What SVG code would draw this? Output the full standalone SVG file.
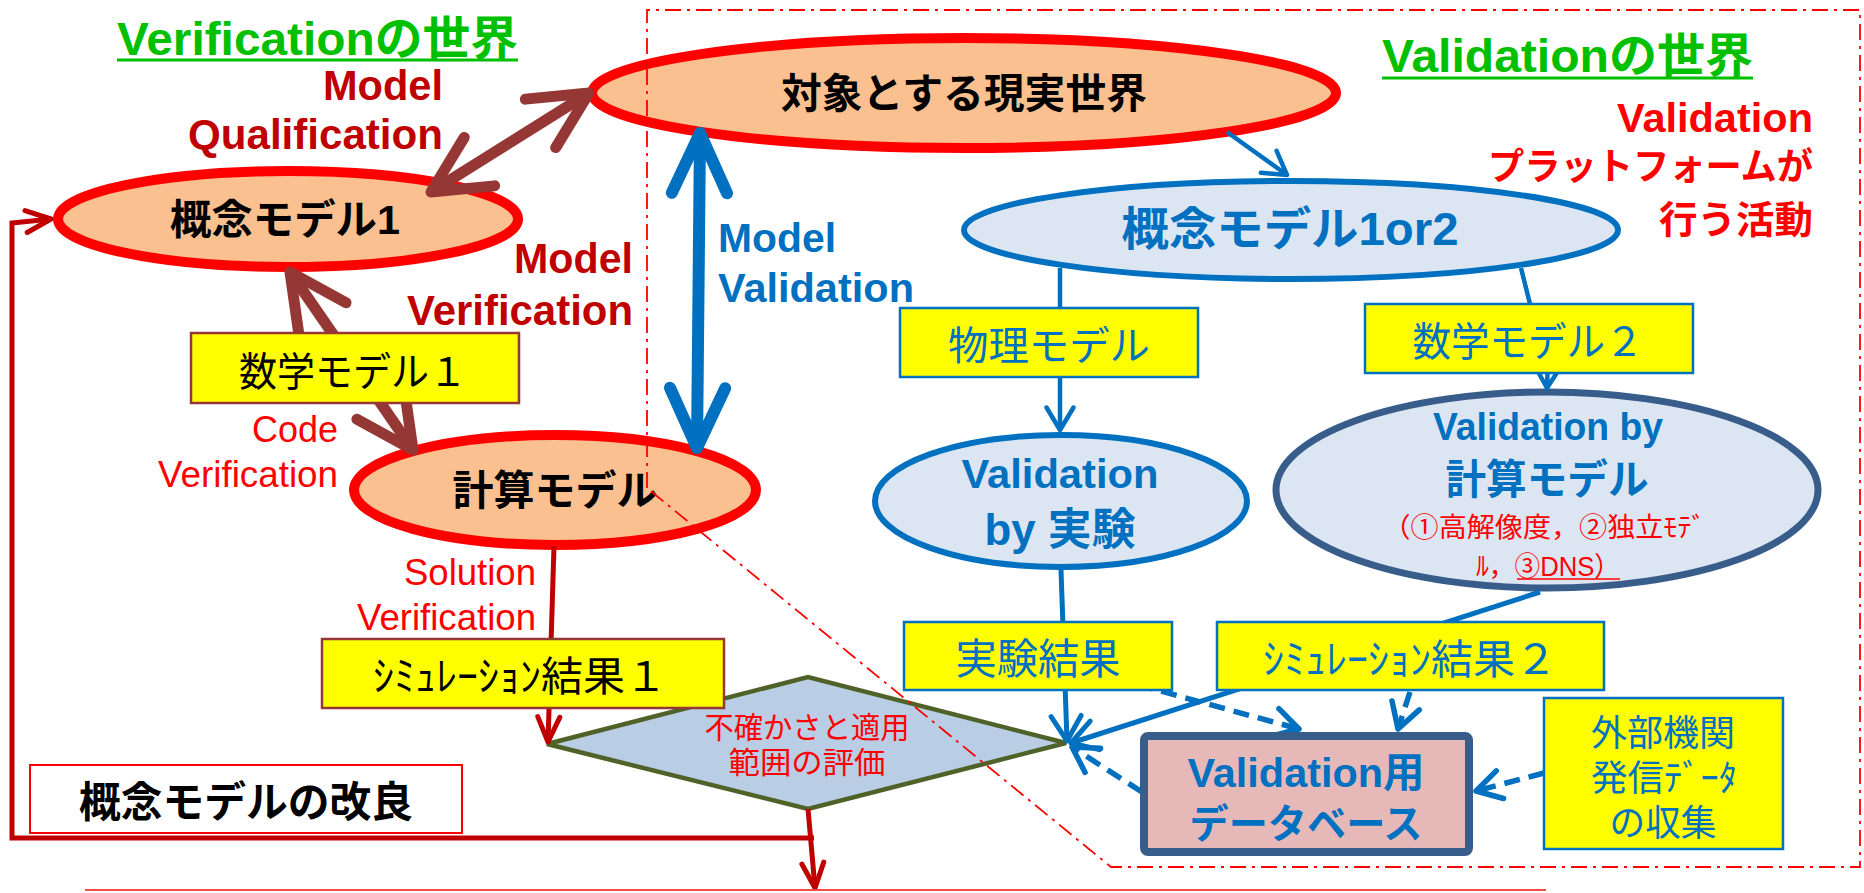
<svg xmlns="http://www.w3.org/2000/svg" width="1864" height="893" viewBox="0 0 1864 893">
<defs>
<style>
text { font-family: 'Liberation Sans', 'Noto Sans CJK JP', sans-serif; }
.b { font-weight: bold; }
.c { text-anchor: middle; }
.e { text-anchor: end; }
.blu { fill: #0070C0; }
.red { fill: #FF0000; }
.dred { fill: #C00000; }
.grn { fill: #00C000; }
.real { fill: #FAC090; stroke: #FF0000; stroke-width: 10; }
.conc { fill: #DCE6F2; stroke: #0070C0; stroke-width: 6; }
.ybox { fill: #FFFF00; stroke-width: 2.5; }
.ybr { stroke: #953735; }
.ybl { stroke: #0070C0; }
.dash { stroke-dasharray: 16 9; }
</style>
<marker id="ahBrown" viewBox="-7 -4 8 8" refX="0" refY="0" markerWidth="8" markerHeight="8" markerUnits="strokeWidth" orient="auto-start-reverse" overflow="visible">
  <path d="M-5.2,-2.6 L0,0 L-5.2,2.6" fill="none" stroke="#953735" stroke-width="1" stroke-linecap="round" stroke-linejoin="round"/>
</marker>
<marker id="ahBlueBig" viewBox="-7 -4 8 8" refX="0" refY="0" markerWidth="8" markerHeight="8" markerUnits="strokeWidth" orient="auto-start-reverse" overflow="visible">
  <path d="M-5,-2.3 L0,0 L-5,2.3" fill="none" stroke="#0070C0" stroke-width="1" stroke-linecap="round" stroke-linejoin="round"/>
</marker>
<marker id="ahBlue" viewBox="-7 -4 8 8" refX="0" refY="0" markerWidth="8" markerHeight="8" markerUnits="strokeWidth" orient="auto" overflow="visible">
  <path d="M-5,-3 L0,0 L-5,3" fill="none" stroke="#0070C0" stroke-width="1" stroke-linecap="round" stroke-linejoin="round"/>
</marker>
<marker id="ahBlueD" viewBox="-7 -4 8 8" refX="0" refY="0" markerWidth="8" markerHeight="8" markerUnits="strokeWidth" orient="auto" overflow="visible">
  <path d="M-4.5,-2.6 L0,0 L-4.5,2.6" fill="none" stroke="#0070C0" stroke-width="1" stroke-linecap="round" stroke-linejoin="round"/>
</marker>
<marker id="ahRed" viewBox="-7 -4 8 8" refX="0" refY="0" markerWidth="8" markerHeight="8" markerUnits="strokeWidth" orient="auto" overflow="visible">
  <path d="M-5,-2.2 L0,0 L-5,2.2" fill="none" stroke="#C00000" stroke-width="1" stroke-linecap="round" stroke-linejoin="round"/>
</marker>
</defs>

<rect width="1864" height="893" fill="#FFFFFF"/>

<!-- ellipse and decision nodes -->
<g id="n-real-world">
  <ellipse cx="964" cy="93" rx="372" ry="55" class="real"/>
  <text x="964" y="108" class="b c" font-size="41" textLength="366" lengthAdjust="spacingAndGlyphs">対象とする現実世界</text>
</g>
<g id="n-concept1">
  <ellipse cx="288" cy="219" rx="230" ry="48" class="real"/>
  <text x="285" y="234" class="b c" font-size="41" textLength="230" lengthAdjust="spacingAndGlyphs">概念モデル1</text>
</g>
<g id="n-compute">
  <ellipse cx="555" cy="490" rx="201" ry="55" class="real"/>
  <text x="555" y="505" class="b c" font-size="41" textLength="205" lengthAdjust="spacingAndGlyphs">計算モデル</text>
</g>
<g id="n-concept12">
  <ellipse cx="1291" cy="230" rx="327" ry="49" class="conc"/>
  <text x="1290" y="245" class="b c blu" font-size="46" textLength="337" lengthAdjust="spacingAndGlyphs">概念モデル1or2</text>
</g>
<g id="n-val-exp">
  <ellipse cx="1061" cy="501" rx="186" ry="66" class="conc"/>
  <text x="1060" y="488" class="b c blu" font-size="41" textLength="197" lengthAdjust="spacingAndGlyphs">Validation</text>
  <text x="1060" y="545" class="b c blu" font-size="44" textLength="151" lengthAdjust="spacingAndGlyphs">by 実験</text>
</g>
<g id="n-val-calc">
  <ellipse cx="1547" cy="490" rx="271" ry="98" fill="#DCE6F2" stroke="#385D8A" stroke-width="7"/>
  <text x="1548" y="440" class="b c blu" font-size="38" textLength="230" lengthAdjust="spacingAndGlyphs">Validation by</text>
  <text x="1547" y="494" class="b c blu" font-size="41" textLength="203" lengthAdjust="spacingAndGlyphs">計算モデル</text>
  <text x="1544" y="537" class="c red" font-size="27" textLength="323" lengthAdjust="spacingAndGlyphs">（①高解像度，②独立ﾓﾃﾞ</text>
  <text x="1548" y="576" class="c red" font-size="27" textLength="144" lengthAdjust="spacingAndGlyphs">ﾙ，③DNS）</text>
  <line x1="1517" y1="579" x2="1620" y2="579" stroke="#FF0000" stroke-width="1.5"/>
</g>
<g id="n-evaluate">
  <polygon points="547,744 808,677 1066,743 808,809" fill="#B9CDE5" stroke="#4F6228" stroke-width="4.5" stroke-linejoin="miter"/>
  <text x="807" y="738" class="c red" font-size="30" textLength="205" lengthAdjust="spacingAndGlyphs">不確かさと適用</text>
  <text x="807" y="773" class="c red" font-size="30" textLength="157" lengthAdjust="spacingAndGlyphs">範囲の評価</text>
</g>

<!-- connectors -->
<g id="connectors" fill="none" stroke-linejoin="round">
  <path id="c-qualification" d="M431,192 L589,93" stroke="#953735" stroke-width="11" marker-start="url(#ahBrown)" marker-end="url(#ahBrown)"/>
  <path id="c-verification" d="M290,272 L413,450" stroke="#953735" stroke-width="11" marker-start="url(#ahBrown)" marker-end="url(#ahBrown)"/>
  <path id="c-validation" d="M700,133 L697,448" stroke="#0070C0" stroke-width="12" marker-start="url(#ahBlueBig)" marker-end="url(#ahBlueBig)"/>
  <path id="c-real-concept12" d="M1227,132 L1287,175" stroke="#0070C0" stroke-width="4.5" marker-end="url(#ahBlue)"/>
  <path id="c-concept12-phys" d="M1060,268 L1060,308" stroke="#0070C0" stroke-width="4.5"/>
  <path id="c-phys-exp" d="M1060,377 L1060,430" stroke="#0070C0" stroke-width="4.5" marker-end="url(#ahBlue)"/>
  <path id="c-concept12-math2" d="M1521,268 L1530,304" stroke="#0070C0" stroke-width="4.5"/>
  <path id="c-math2-calc" d="M1548,360 L1547,388" stroke="#0070C0" stroke-width="4.5" marker-end="url(#ahBlue)"/>
  <path id="c-compute-eval" d="M554,546 L548,742" stroke="#C00000" stroke-width="5" marker-end="url(#ahRed)"/>
  <path id="c-eval-out" d="M808,809 L815,888" stroke="#C00000" stroke-width="5" marker-end="url(#ahRed)"/>
  <path id="c-feedback" d="M814,838 H12 V223 L51,219" stroke="#C00000" stroke-width="5" stroke-linejoin="miter" marker-end="url(#ahRed)"/>
  <path id="c-exp-eval" d="M1061,570 L1067,741" stroke="#0070C0" stroke-width="5" marker-end="url(#ahBlue)"/>
  <path id="c-calc-eval" d="M1540,592 L1071,743" stroke="#0070C0" stroke-width="5" marker-end="url(#ahBlue)"/>
  <path id="c-expres-db" class="dash" d="M1113,678 L1299,729" stroke="#0070C0" stroke-width="5.5" marker-end="url(#ahBlueD)"/>
  <path id="c-simres-db" class="dash" d="M1410,692 L1398,729" stroke="#0070C0" stroke-width="5.5" marker-end="url(#ahBlueD)"/>
  <path id="c-db-eval" class="dash" d="M1142,792 L1072,747" stroke="#0070C0" stroke-width="5.5" marker-end="url(#ahBlueD)"/>
  <path id="c-ext-db" class="dash" d="M1544,773 L1476,791" stroke="#0070C0" stroke-width="5.5" marker-end="url(#ahBlueD)"/>
</g>

<!-- box nodes -->
<g id="n-math1">
  <rect x="191" y="333" width="328" height="70" class="ybox ybr"/>
  <text x="353" y="386" class="c" font-size="40" textLength="228" lengthAdjust="spacingAndGlyphs">数学モデル１</text>
</g>
<g id="n-sim1">
  <rect x="322" y="639" width="402" height="69" class="ybox ybr"/>
  <text x="520" y="691" class="c" font-size="41" textLength="294" lengthAdjust="spacingAndGlyphs">ｼﾐｭﾚｰｼｮﾝ結果１</text>
</g>
<g id="n-improve">
  <rect x="30" y="765" width="432" height="68" fill="#FFFFFF" stroke="#FF0000" stroke-width="2"/>
  <text x="246" y="817" class="b c" font-size="42" textLength="334" lengthAdjust="spacingAndGlyphs">概念モデルの改良</text>
</g>
<g id="n-phys">
  <rect x="900" y="308" width="298" height="69" class="ybox ybl"/>
  <text x="1049" y="360" class="c blu" font-size="40" textLength="202" lengthAdjust="spacingAndGlyphs">物理モデル</text>
</g>
<g id="n-math2">
  <rect x="1365" y="304" width="328" height="69" class="ybox ybl"/>
  <text x="1528" y="356" class="c blu" font-size="40" textLength="231" lengthAdjust="spacingAndGlyphs">数学モデル２</text>
</g>
<g id="n-exp-result">
  <rect x="904" y="622" width="268" height="68" class="ybox ybl"/>
  <text x="1038" y="674" class="c blu" font-size="42" textLength="165" lengthAdjust="spacingAndGlyphs">実験結果</text>
</g>
<g id="n-sim2">
  <rect x="1217" y="622" width="387" height="68" class="ybox ybl"/>
  <text x="1410" y="674" class="c blu" font-size="41" textLength="294" lengthAdjust="spacingAndGlyphs">ｼﾐｭﾚｰｼｮﾝ結果２</text>
</g>
<g id="n-database">
  <rect x="1144" y="736" width="325" height="116" rx="4" fill="#E6B9B8" stroke="#385D8A" stroke-width="8"/>
  <text x="1306" y="787" class="b c blu" font-size="41" textLength="237" lengthAdjust="spacingAndGlyphs">Validation用</text>
  <text x="1306" y="838" class="b c blu" font-size="40" textLength="233" lengthAdjust="spacingAndGlyphs">データベース</text>
</g>
<g id="n-external">
  <rect x="1544" y="698" width="239" height="151" class="ybox ybl"/>
  <text x="1663" y="746" class="c blu" font-size="36" textLength="144" lengthAdjust="spacingAndGlyphs">外部機関</text>
  <text x="1664" y="791" class="c blu" font-size="36" textLength="146" lengthAdjust="spacingAndGlyphs">発信ﾃﾞｰﾀ</text>
  <text x="1663" y="836" class="c blu" font-size="36" textLength="107" lengthAdjust="spacingAndGlyphs">の収集</text>
</g>

<!-- labels -->
<g id="labels">
  <text x="117" y="55" class="b grn" font-size="47" textLength="401" lengthAdjust="spacingAndGlyphs">Verificationの世界</text>
  <line x1="117" y1="60" x2="518" y2="60" stroke="#00C000" stroke-width="3"/>
  <text x="1382" y="72" class="b grn" font-size="47" textLength="371" lengthAdjust="spacingAndGlyphs">Validationの世界</text>
  <line x1="1382" y1="78" x2="1753" y2="78" stroke="#00C000" stroke-width="3"/>

  <text x="443" y="100" class="b e dred" font-size="42" textLength="120" lengthAdjust="spacingAndGlyphs">Model</text>
  <text x="443" y="149" class="b e dred" font-size="42" textLength="255" lengthAdjust="spacingAndGlyphs">Qualification</text>
  <text x="633" y="273" class="b e dred" font-size="42" textLength="119" lengthAdjust="spacingAndGlyphs">Model</text>
  <text x="633" y="325" class="b e dred" font-size="42" textLength="226" lengthAdjust="spacingAndGlyphs">Verification</text>

  <text x="338" y="442" class="e red" font-size="37" textLength="86" lengthAdjust="spacingAndGlyphs">Code</text>
  <text x="338" y="487" class="e red" font-size="37" textLength="180" lengthAdjust="spacingAndGlyphs">Verification</text>
  <text x="536" y="585" class="e red" font-size="37" textLength="132" lengthAdjust="spacingAndGlyphs">Solution</text>
  <text x="536" y="630" class="e red" font-size="37" textLength="179" lengthAdjust="spacingAndGlyphs">Verification</text>

  <text x="718" y="252" class="b blu" font-size="41" textLength="118" lengthAdjust="spacingAndGlyphs">Model</text>
  <text x="718" y="302" class="b blu" font-size="41" textLength="196" lengthAdjust="spacingAndGlyphs">Validation</text>

  <text x="1813" y="132" class="b e red" font-size="41" textLength="196" lengthAdjust="spacingAndGlyphs">Validation</text>
  <text x="1813" y="180" class="b e red" font-size="37" textLength="325" lengthAdjust="spacingAndGlyphs">プラットフォームが</text>
  <text x="1813" y="233" class="b e red" font-size="38" textLength="154" lengthAdjust="spacingAndGlyphs">行う活動</text>
</g>

<!-- validation platform boundary and base rule -->
<g id="boundary" fill="none">
  <path d="M647,488 V10 H1860 V867 H1111 Z" stroke="#FF0000" stroke-width="1.8" stroke-dasharray="16 6 3 6"/>
  <line x1="85" y1="890" x2="1546" y2="890" stroke="#FF4A4A" stroke-width="2"/>
</g>
</svg>
